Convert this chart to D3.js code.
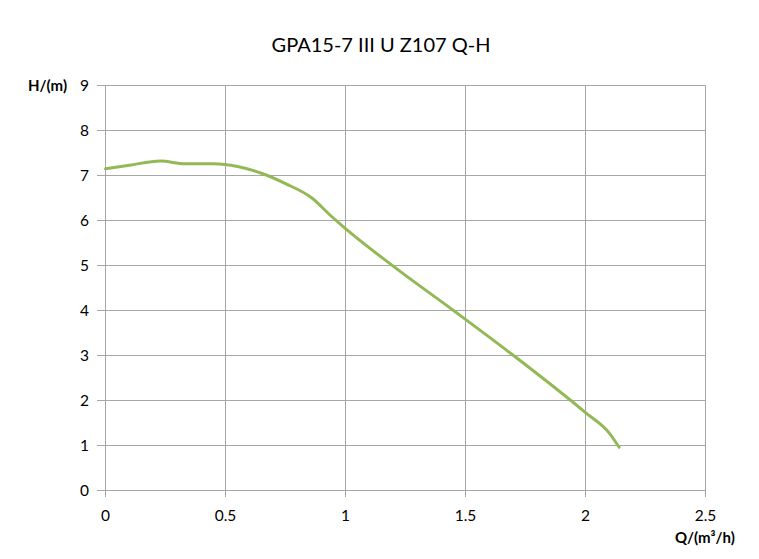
<!DOCTYPE html>
<html><head><meta charset="utf-8">
<script src="https://cdn.jsdelivr.net/npm/d3@7"></script>
<style>body{margin:0;background:#fff;} text{font-family:Lato,"Open Sans",sans-serif;}</style>
</head><body><svg id="c" width="759" height="559"></svg>
<script>
const flowQ = [0, 0.1, 0.23, 0.33, 0.45, 0.55, 0.65, 0.75, 0.86, 0.94, 1.0, 1.2, 1.45, 1.7, 2.0, 2.1, 2.14];
const headH = [7.15, 7.23, 7.32, 7.26, 7.26, 7.2, 7.05, 6.82, 6.5, 6.1, 5.82, 4.98, 4.0, 3.0, 1.73, 1.27, 0.96];
const xTicks = [0, 0.5, 1, 1.5, 2, 2.5];
const yTicks = [0,1,2,3,4,5,6,7,8,9];
const title = "GPA15-7 III U Z107 Q-H";

const svg = d3.select("#c");
const x = d3.scaleLinear().domain([0,2.5]).range([105.5,705.5]);
const y = d3.scaleLinear().domain([0,9]).range([490.5,85.5]);
const grid = "#a6a6a6";

svg.append("g").selectAll("line").data(yTicks).join("line")
  .attr("x1",97).attr("x2",705.5).attr("y1",d=>y(d)).attr("y2",d=>y(d))
  .attr("stroke",grid).attr("stroke-width",1);
svg.append("g").selectAll("line").data(xTicks).join("line")
  .attr("y1",85.5).attr("y2",497).attr("x1",d=>x(d)).attr("x2",d=>x(d))
  .attr("stroke",grid).attr("stroke-width",1);

svg.append("g").selectAll("text").data(yTicks).join("text")
  .attr("x",89).attr("y",d=>y(d)+5.5).attr("text-anchor","end")
  .attr("font-size",15.5).attr("fill","#000").text(d=>d);
svg.append("g").selectAll("text").data(xTicks).join("text")
  .attr("x",d=>x(d)).attr("y",521).attr("text-anchor","middle")
  .attr("font-size",15.5).attr("fill","#000").text(d=>d);

const line = d3.line().x(d=>x(d[0])).y(d=>y(d[1])).curve(d3.curveMonotoneX);
svg.append("path").datum(flowQ.map((q,i)=>[q,headH[i]]))
  .attr("d",line).attr("fill","none").attr("stroke","#93b956").attr("stroke-width",3)
  .attr("stroke-linecap","round");

svg.append("text").attr("x",381).attr("y",52).attr("text-anchor","middle")
  .attr("font-size",20).attr("fill","#000").text(title);
svg.append("text").attr("x",28).attr("y",91).attr("font-size",15).attr("font-weight","bold").text("H/(m)");
svg.append("text").attr("x",705).attr("y",543).attr("text-anchor","middle").attr("font-size",15).attr("font-weight","bold").text("Q/(m³/h)");
</script></body></html>
